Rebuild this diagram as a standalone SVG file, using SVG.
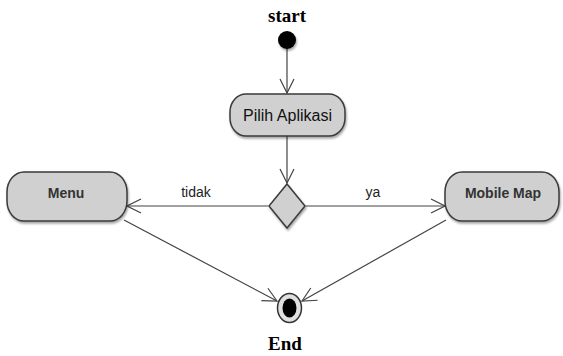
<svg xmlns="http://www.w3.org/2000/svg" width="563" height="356" viewBox="0 0 563 356">
<defs>
<style>
.node{fill:#d0d0d0;stroke:#3a3a3a;stroke-width:1.5}
.lbl{font-family:"Liberation Sans",Arial,sans-serif;font-size:14px;fill:#222;text-anchor:middle}
.title{font-family:"Liberation Serif","Times New Roman",serif;font-size:19px;font-weight:bold;fill:#000;text-anchor:middle}
.edge{stroke:#444;stroke-width:1.2;fill:none}
</style>
<marker id="arr" viewBox="0 0 16 16" refX="15" refY="8" markerWidth="16" markerHeight="16" markerUnits="userSpaceOnUse" orient="auto">
<path d="M1,1 L15,8 L1,15" fill="none" stroke="#444" stroke-width="1.2"/>
</marker>
<filter id="sh" x="-10%" y="-10%" width="130%" height="140%">
<feDropShadow dx="1" dy="2" stdDeviation="1" flood-color="#000" flood-opacity="0.35"/>
</filter>
</defs>
<rect width="563" height="356" fill="#fff"/>
<g id="connectors">
<line class="edge" x1="287" y1="48" x2="287" y2="93" marker-end="url(#arr)"/>
<line class="edge" x1="287" y1="136" x2="287" y2="183" marker-end="url(#arr)"/>
<line class="edge" x1="268" y1="206" x2="127" y2="206" marker-end="url(#arr)"/>
<line class="edge" x1="306" y1="206" x2="445" y2="206" marker-end="url(#arr)"/>
<line class="edge" x1="124" y1="220" x2="277" y2="301" marker-end="url(#arr)"/>
<line class="edge" x1="446" y1="220" x2="302" y2="301" marker-end="url(#arr)"/>
<text class="lbl" x="196" y="197">tidak</text>
<text class="lbl" x="373" y="197">ya</text>
</g>
<g id="start">
<text class="title" x="287" y="22">start</text>
<circle cx="287" cy="40" r="9" fill="#000" filter="url(#sh)"/>
</g>
<g id="pilih">
<rect class="node" x="230" y="94" width="115" height="42" rx="16" ry="18" filter="url(#sh)"/>
<text class="lbl" x="287.5" y="121" style="font-size:16px;fill:#111">Pilih Aplikasi</text>
</g>
<g id="decision">
<polygon class="node" points="287,184 305,206 287,228 269,206" filter="url(#sh)"/>
</g>
<g id="menu">
<rect class="node" x="7" y="172" width="120" height="49" rx="17" ry="20" filter="url(#sh)"/>
<text class="lbl" x="66" y="198" style="font-weight:bold;fill:#333">Menu</text>
</g>
<g id="mobile">
<rect class="node" x="445" y="172" width="114" height="49" rx="17" ry="20" filter="url(#sh)"/>
<text class="lbl" x="503" y="198" style="font-weight:bold;fill:#333">Mobile Map</text>
</g>
<g id="end">
<ellipse cx="289.5" cy="308" rx="12" ry="14.5" fill="#e0e0e0" stroke="#333" stroke-width="1.5"/>
<ellipse cx="289.5" cy="308" rx="7" ry="9.5" fill="#000"/>
<text class="title" x="285" y="350">End</text>
</g>
</svg>
